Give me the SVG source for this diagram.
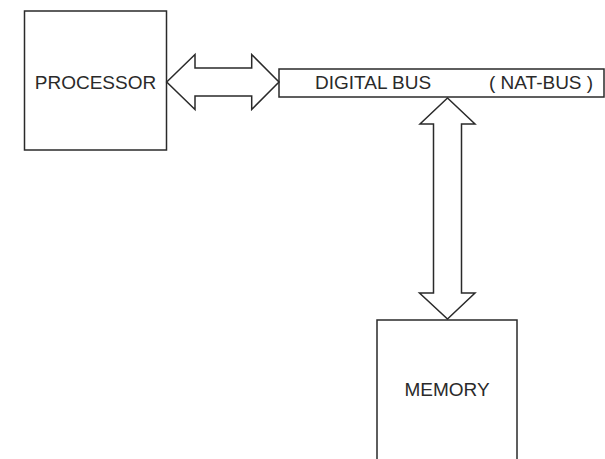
<svg xmlns="http://www.w3.org/2000/svg" width="605" height="459" viewBox="0 0 605 459">
<style>
.box{fill:#fff;stroke:#2a2a2a;stroke-width:1.5}
.arrow{fill:#fff;stroke:#2a2a2a;stroke-width:1.5;stroke-linejoin:miter}
.lbl{font-family:"Liberation Sans",Arial,sans-serif;font-size:19px;fill:#2a2a2a}
</style>
<rect width="605" height="459" fill="#fff"/>
<g id="processor">
<rect class="box" x="24.5" y="11" width="142" height="139"/>
<text class="lbl" x="95.5" y="89" text-anchor="middle">PROCESSOR</text>
</g>
<g id="digital-bus">
<rect class="box" x="279" y="69" width="325" height="28"/>
<text class="lbl" x="315" y="89">DIGITAL BUS</text>
<text class="lbl" x="489" y="89">( NAT-BUS )</text>
</g>
<g id="memory">
<rect class="box" x="377" y="320" width="140" height="150"/>
<text class="lbl" x="447" y="396" text-anchor="middle">MEMORY</text>
</g>
<g id="connectors">
<polygon class="arrow" points="166.7,82 195,54.5 195,68 251.7,68 251.7,54.5 279,82 251.7,109.5 251.7,96 195,96 195,109.5"/>
<polygon class="arrow" points="447.5,98 420,124 433.5,124 433.5,293 419.5,293 447.5,319 475,293 461.5,293 461.5,124 475,124"/>
</g>
</svg>
